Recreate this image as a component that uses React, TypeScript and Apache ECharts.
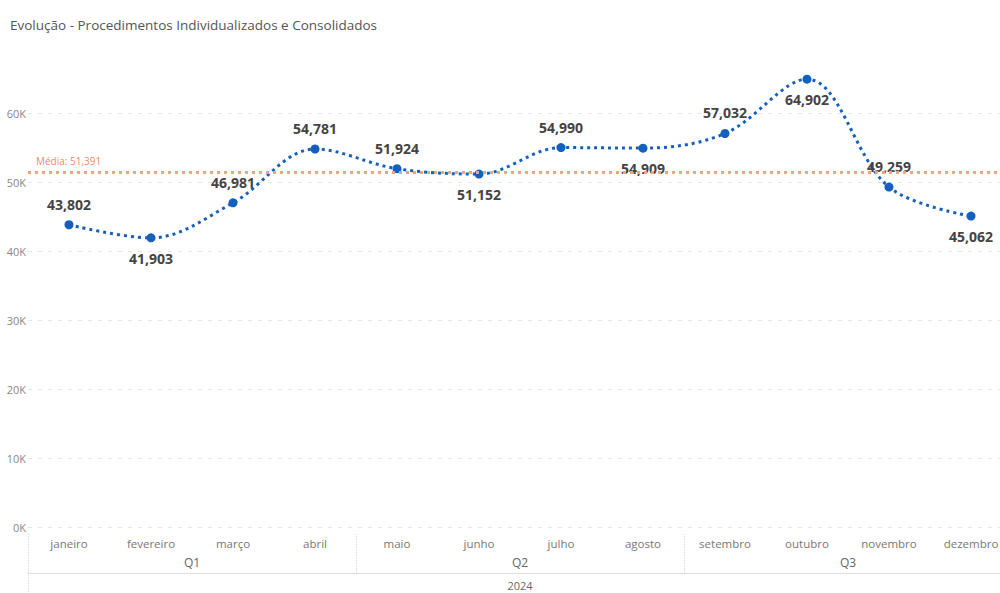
import React, { useEffect, useRef } from "react";
import * as echarts from "echarts";

const months = ["janeiro", "fevereiro", "março", "abril", "maio", "junho", "julho", "agosto", "setembro", "outubro", "novembro", "dezembro"];
const quarters = ["Q1", "Q2", "Q3"];
const years = ["2024"];
const values = [43802, 41903, 46981, 54781, 51924, 51152, 54990, 54909, 57032, 64902, 49259, 45062];
const yTicks = [0, 10000, 20000, 30000, 40000, 50000, 60000];

const FONT = "'Open Sans', 'Noto Sans', sans-serif";

export default function App() {
  const ref = useRef<HTMLDivElement>(null);
  useEffect(() => {
    if (!ref.current) return;
    const chart = echarts.init(ref.current, undefined, { renderer: "svg" });
    const labelPos = ["top", "bottom", "top", "top", "top", "bottom", "top", "bottom", "top", "bottom", "top", "bottom"];
    const fmt = (v: number) => v.toLocaleString("en-US");
    chart.setOption({
      animation: false,
      backgroundColor: "#ffffff",
      textStyle: { fontFamily: FONT },
      title: {
        text: "Evolução - Procedimentos Individualizados e Consolidados",
        left: 5,
        top: 13,
        textStyle: { fontFamily: FONT, fontSize: 13.5, fontWeight: "normal", color: "#555555" },
      },
      grid: { left: 28, right: 0, top: 44, bottom: 66, containLabel: false },
      xAxis: [
        {
          type: "category",
          data: months,
          boundaryGap: true,
          axisLine: { show: false },
          axisTick: { show: false },
          axisLabel: { color: "#777777", fontSize: 11.5, margin: 10, interval: 0 },
        },
        {
          type: "category",
          data: quarters,
          position: "bottom",
          offset: 46,
          boundaryGap: true,
          axisLine: { show: true, lineStyle: { color: "#d8d8d8", type: "dotted", width: 1 } },
          axisTick: { show: true, inside: true, length: 40, lineStyle: { color: "#d8d8d8", type: "dotted", width: 1 } },
          axisLabel: { inside: true, color: "#666666", fontSize: 12, margin: 5 },
        },
        {
          type: "category",
          data: years,
          position: "bottom",
          offset: 46,
          boundaryGap: true,
          axisLine: { show: false },
          axisTick: { show: true, inside: false, length: 22, lineStyle: { color: "#d8d8d8", type: "dotted", width: 1 } },
          axisLabel: { color: "#666666", fontSize: 11, margin: 7 },
        },
      ],
      yAxis: {
        type: "value",
        min: yTicks[0],
        max: 70000,
        interval: 10000,
        axisLine: { show: false },
        axisTick: { show: false },
        axisLabel: {
          color: "#888888",
          fontSize: 11,
          margin: 2,
          showMaxLabel: false,
          formatter: (v: number) => (yTicks.includes(v) ? `${v / 1000}K` : ""),
        },
        splitLine: { show: true, showMaxLine: false, lineStyle: { color: "#e6e6e6", type: [4, 6], width: 1 } },
      },
      series: [
        {
          type: "line",
          data: values.map((v, i) => ({ value: v, label: { position: labelPos[i] } })),
          smooth: 0.35,
          symbol: "circle",
          symbolSize: 9,
          itemStyle: { color: "#1560BD" },
          lineStyle: { color: "#1560BD", width: 3, type: [3, 4] },
          label: {
            show: true,
            formatter: (p: any) => fmt(p.value),
            fontSize: 14,
            fontWeight: "bold",
            color: "#444444",
            distance: 9,
            fontFamily: FONT,
          },
          markLine: {
            silent: true,
            symbol: "none",
            data: [{ type: "average" }],
            lineStyle: { color: "#F4A27A", type: [3, 4], width: 3 },
            label: {
              position: "insideStartTop",
              formatter: (p: any) => `Média: ${fmt(Math.round(p.value))}`,
              color: "#F08A6A",
              fontSize: 10,
              distance: [8, 6],
              fontFamily: FONT,
            },
          },
        },
      ],
    });
    return () => chart.dispose();
  }, []);
  return (
    <div style={{ position: "absolute", left: 0, top: 0, width: 1000, height: 593, overflow: "hidden", background: "#fff" }}>
      <div ref={ref} style={{ width: 1012, height: 593 }} />
    </div>
  );
}
